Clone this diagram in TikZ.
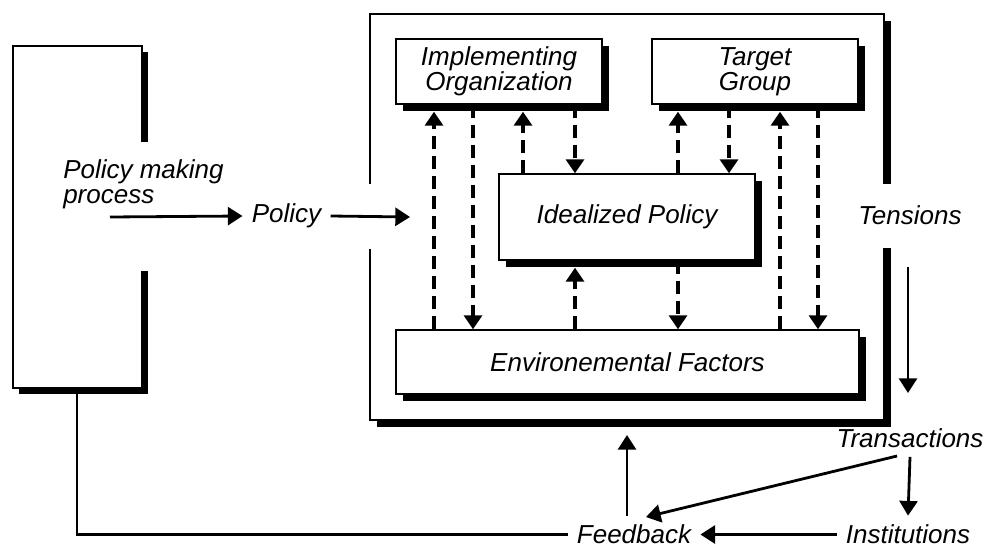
\documentclass[tikz,border=0pt]{standalone}
\usepackage{fontspec}
\setmainfont{Liberation Sans}
\usetikzlibrary{arrows.meta,shadows}
\begin{document}
\begin{tikzpicture}[x=0.75pt,y=-0.75pt,
  lbl/.style={font=\fontsize{19.5}{18.5}\selectfont\itshape, align=center},
  txt/.style={lbl, inner sep=0pt, outer sep=7pt},
  box/.style={lbl, draw=black, line width=1.1pt, fill=white, inner sep=0pt,
    drop shadow={shadow xshift=5.25pt, shadow yshift=-5.25pt, fill=black, opacity=1}},
  dar/.style={line width=2.6pt, dash pattern=on 10pt off 5pt, -{Triangle[length=10.5pt,width=13.5pt]}},
  sar/.style={line width=2.1pt, -{Triangle[length=11pt,width=13.5pt]}},
  thin/.style={line width=1.1pt},
  thk/.style={line width=1.6pt},
]
\useasboundingbox (0,0) rectangle (985,549);

% left box (policy making process)
\fill (142,52) rectangle (148,142);
\fill (142,271) rectangle (148,394);
\fill (19,388) rectangle (148,394);
\draw[thin] (142,142) -- (142,46) -- (13,46) -- (13,388) -- (142,388) -- (142,271);

% outer box
\fill (884,21) rectangle (891,184);
\fill (884,248) rectangle (891,427);
\fill (377,420) rectangle (891,427);
\draw[thin] (370,184) -- (370,14) -- (884,14) -- (884,184);
\draw[thin] (884,248) -- (884,420) -- (370,420) -- (370,249);

% inner boxes
\node[box, minimum width=154.5pt, minimum height=48.75pt] (io) at (499,71.5) {Implementing\\Organization};
\node[box, minimum width=154.5pt, minimum height=48.75pt] (tg) at (755,71.5) {Target\\Group};
\node[box, minimum width=192pt, minimum height=64.5pt] (ip) at (627,217) {Idealized Policy};
\node[box, minimum width=347.25pt, minimum height=48pt] (ef) at (627.5,362) {Environemental Factors};

% free labels
\node[lbl, inner sep=0pt, align=left, anchor=west] (pmp) at (63,184) {Policy making\\process};
\node[txt] (pol) at (286.5,216) {Policy};
\node[txt] (ten) at (910,215) {Tensions};
\node[txt] (tra) at (910,438) {Transactions};
\node[txt] (ins) at (908,534.5) {Institutions};
\node[txt] (fb) at (634,534.5) {Feedback};

% coordinates
\coordinate (pmpout) at (110,217);
\coordinate (polin) at (410,217);
\coordinate (tenout) at (908,267);
\coordinate (train) at (908,393);
\coordinate (traout) at (897,456);
\coordinate (fbin) at (646,517);
\coordinate (outbot) at (627,435);
\coordinate (lbbot) at (77,388);
\coordinate (x1) at (434,0);
\coordinate (x2) at (473,0);
\coordinate (x3) at (523,0);
\coordinate (x4) at (575,0);
\coordinate (x5) at (678,0);
\coordinate (x6) at (729,0);
\coordinate (x7) at (780,0);
\coordinate (x8) at (818,0);

% dashed arrows
\draw[dar, shorten >=5.25pt] (ef.north -| x1) -- (io.south -| x1);
\draw[dar] (io.south -| x2) -- (ef.north -| x2);
\draw[dar, shorten >=5.25pt] (ip.north -| x3) -- (io.south -| x3);
\draw[dar] (io.south -| x4) -- (ip.north -| x4);
\draw[dar, shorten >=5.25pt] (ef.north -| x4) -- (ip.south -| x4);
\draw[dar, shorten >=5.25pt] (ip.north -| x5) -- (tg.south -| x5);
\draw[dar] (ip.south -| x5) -- (ef.north -| x5);
\draw[dar] (tg.south -| x6) -- (ip.north -| x6);
\draw[dar, shorten >=5.25pt] (ef.north -| x7) -- (tg.south -| x7);
\draw[dar] (tg.south -| x8) -- (ef.north -| x8);

% solid arrows
\draw[sar] (pmpout) -- (pol.west);
\draw[sar] (pol.east) -- (polin);
\draw[sar] (tenout) -- (train);
\draw[sar] (tra.south) -- (ins.north);
\draw[sar] (traout) -- (fbin);
\draw[sar] (ins.west) -- (fb.east);
\draw[sar] (fb.north -| outbot) -- (outbot);
\draw[thk] (lbbot) |- (fb.west);
\end{tikzpicture}
\end{document}
